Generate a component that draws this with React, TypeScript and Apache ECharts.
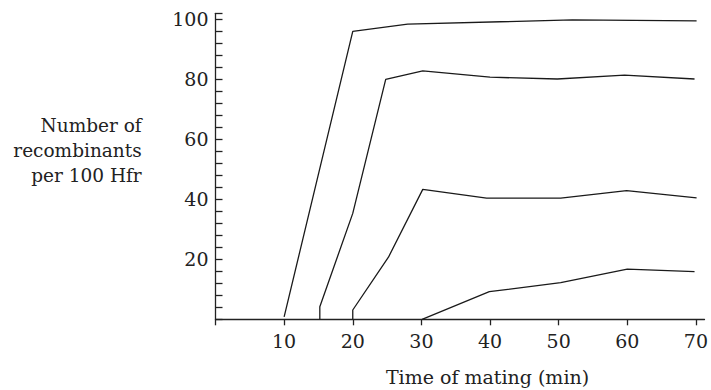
import React, { useEffect, useRef } from "react";
import * as echarts from "echarts";

const curve1: [number, number][] = [[10, 0.8], [20, 96], [28, 98.4], [52, 99.8], [70.1, 99.5]];
const curve2: [number, number][] = [[15.2, 0], [15.2, 4.2], [20, 35.3], [24.8, 80], [30.2, 82.8], [40, 80.7], [49.8, 80.1], [59.6, 81.4], [69.8, 80.1]];
const curve3: [number, number][] = [[20, 0], [20, 3.1], [25.2, 20.7], [30.2, 43.3], [39.5, 40.4], [50.3, 40.4], [59.9, 42.9], [70.1, 40.5]];
const curve4: [number, number][] = [[30.1, 0], [39.9, 9.2], [50.3, 12.2], [60, 16.7], [69.8, 15.9]];

const xTitle = "Time of mating (min)";
const yTitleLines = ["Number of", "recombinants", "per 100 Hfr"];

const FONT = "DejaVu Serif";
const INK = "#222";

export default function App() {
  const ref = useRef<HTMLDivElement>(null);
  useEffect(() => {
    if (!ref.current) return;
    const chart = echarts.init(ref.current, null, { renderer: "svg" });
    const mk = (data: [number, number][]) => ({
      type: "line",
      data,
      symbol: "none",
      lineStyle: { color: "#1a1a1a", width: 1.3 },
      silent: true,
    });
    chart.setOption({
      animation: false,
      grid: { left: 215.5, right: 0, top: 13.3, bottom: 70.7, containLabel: false },
      xAxis: {
        type: "value",
        min: 0,
        max: 71.25,
        interval: 10,
        splitLine: { show: false },
        axisLine: { lineStyle: { color: INK, width: 1.3 } },
        axisTick: { show: true, inside: false, length: 6, lineStyle: { color: INK, width: 1.3 } },
        axisLabel: {
          color: INK,
          fontFamily: FONT,
          fontSize: 19,
          margin: 12,
          showMaxLabel: false,
          formatter: (v: number) => (v === 0 ? "" : String(v)),
        },
      },
      yAxis: {
        type: "value",
        min: 0,
        max: 102,
        interval: 20,
        splitLine: { show: false },
        axisLine: { show: true, lineStyle: { color: INK, width: 1.3 } },
        axisTick: { show: true, inside: true, length: 7, lineStyle: { color: INK, width: 1.3 } },
        minorTick: { show: true, splitNumber: 5, length: 7, lineStyle: { color: INK, width: 1.3 } },
        axisLabel: {
          color: INK,
          fontFamily: FONT,
          fontSize: 19,
          margin: 7,
          showMaxLabel: false,
          formatter: (v: number) => (v === 0 || v > 100 ? "" : String(v)),
        },
      },
      graphic: [
        {
          type: "text",
          x: 487.5,
          y: 377,
          style: {
            text: xTitle,
            fill: INK,
            font: `19px "${FONT}"`,
            textAlign: "center",
            textVerticalAlign: "middle",
          },
        },
        {
          type: "text",
          x: 141.7,
          y: 150,
          style: {
            text: yTitleLines.join("\n"),
            fill: INK,
            font: `18.5px "${FONT}"`,
            lineHeight: 25,
            textAlign: "right",
            textVerticalAlign: "middle",
          },
        },
      ],
      series: [mk(curve1), mk(curve2), mk(curve3), mk(curve4)],
    });
    return () => chart.dispose();
  }, []);
  return (
    <div
      ref={ref}
      style={{ position: "absolute", left: 0, top: 0, width: 711, height: 390 }}
    />
  );
}
